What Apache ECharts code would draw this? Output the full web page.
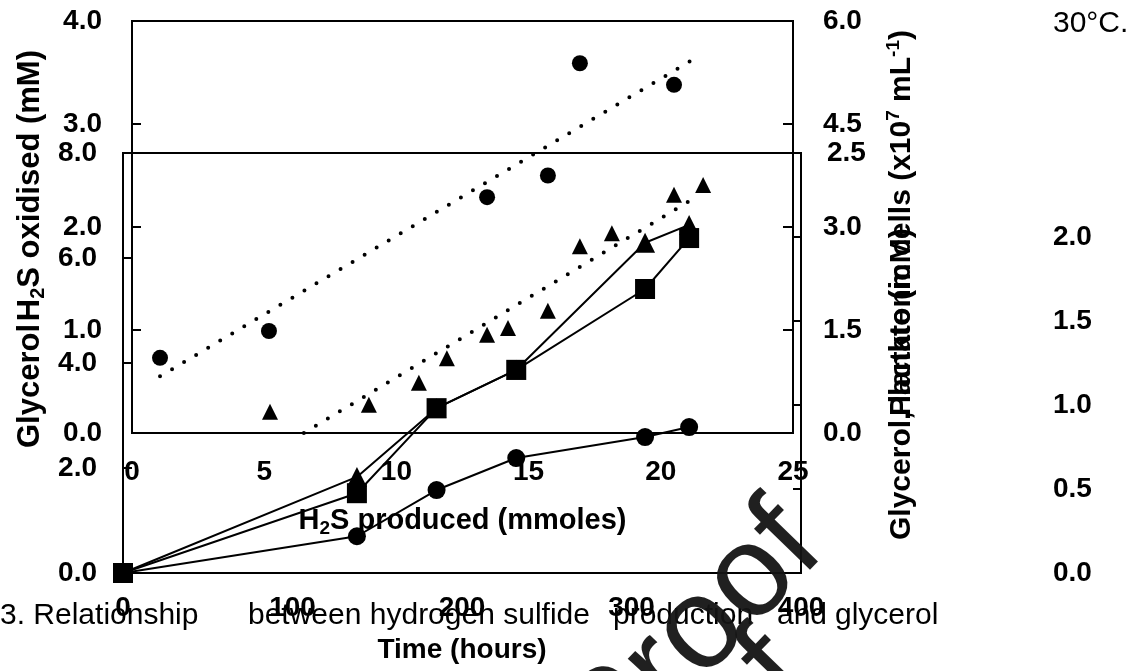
<!DOCTYPE html>
<html>
<head>
<meta charset="utf-8">
<style>
  html, body { margin: 0; padding: 0; background: #fff; }
  #chart { width: 1147px; height: 671px; }
</style>
<script src="https://cdn.jsdelivr.net/npm/echarts@6/dist/echarts.min.js"></script>
</head>
<body>
<div id="chart"></div>
<script>
// Panel A: H2S produced (mmoles) vs H2S oxidised (circles) and planktonic cells (triangles)
const prodCircleX = [1.06, 5.18, 13.43, 15.73, 16.94, 20.50]
const oxidisedMM = [0.73, 0.99, 2.29, 2.50, 3.59, 3.38]
const oxidisedTrendX = [1.06, 21.18]
const oxidisedTrendY = [0.55, 3.62]

const prodTriX = [5.22, 8.96, 10.85, 11.91, 13.43, 14.22, 15.73, 16.94, 18.15, 20.50, 21.60]
const cellsE7 = [0.31, 0.41, 0.73, 1.09, 1.43, 1.53, 1.78, 2.72, 2.91, 3.47, 3.61]
const cellsTrendX = [6.5, 21.26]
const cellsTrendY = [0, 3.42]

// Panel B: time course (hours)
const hours = [0, 138, 185, 232, 308, 334]
const squareVals = [0, 1.52, 3.14, 3.87, 5.41, 6.38]
const triangleVals = [0, 1.83, 3.14, 3.87, 6.29, 6.63]
const circleVals = [0, 0.70, 1.58, 2.19, 2.59, 2.78]

// tick labels
const ticksA_x = [0, 5, 10, 15, 20, 25]
const ticksB_x = [0, 100, 200, 300, 400]

const FONT = 'Liberation Sans, Arial, sans-serif'
const zip = (xs, ys) => xs.map((x, i) => [x, ys[i]])

const labelStyle = (margin) => ({
  color: '#000',
  fontFamily: FONT,
  fontWeight: 'bold',
  fontSize: 28,
  margin: margin
})
const tickStyle = (len) => ({
  show: true,
  inside: true,
  length: len,
  lineStyle: { color: '#000', width: 2 }
})
const lineAxis = { show: true, lineStyle: { color: '#000', width: 2 } }

const chart = echarts.init(document.getElementById('chart'))

const option = {
  animation: false,
  grid: [
    { left: 132, top: 21, width: 661, height: 412, show: true, borderColor: '#000', borderWidth: 2, backgroundColor: 'transparent', outerBoundsMode: 'none' },
    { left: 123, top: 153, width: 678, height: 420, show: true, borderColor: '#000', borderWidth: 2, backgroundColor: 'transparent', outerBoundsMode: 'none' }
  ],
  xAxis: [
    {
      gridIndex: 0, type: 'value', min: 0, max: 25, interval: 5,
      axisLine: lineAxis, axisTick: { show: false }, splitLine: { show: false },
      axisLabel: { ...labelStyle(25), formatter: v => ticksA_x.includes(v) ? String(v) : '' },
      name: '{n|H}{s|2}{n|S produced (mmoles)}',
      nameLocation: 'middle', nameGap: 70,
      nameTextStyle: {
        rich: {
          n: { fontFamily: FONT, fontWeight: 'bold', fontSize: 29, color: '#000' },
          s: { fontFamily: FONT, fontWeight: 'bold', fontSize: 19, color: '#000', padding: [16, 0, 0, 0] }
        }
      }
    },
    {
      gridIndex: 1, type: 'value', min: 0, max: 400, interval: 100,
      axisLine: lineAxis, axisTick: { show: false }, splitLine: { show: false },
      axisLabel: { ...labelStyle(21), formatter: v => ticksB_x.includes(v) ? String(v) : '' },
      name: 'Time (hours)',
      nameLocation: 'middle', nameGap: 63,
      nameTextStyle: { fontFamily: FONT, fontWeight: 'bold', fontSize: 28, color: '#000' }
    }
  ],
  yAxis: [
    {
      gridIndex: 0, type: 'value', min: 0, max: 4, interval: 1, position: 'left',
      axisLine: lineAxis, axisTick: tickStyle(9), splitLine: { show: false },
      axisLabel: { ...labelStyle(30), formatter: v => v.toFixed(1) }
    },
    {
      gridIndex: 0, type: 'value', min: 0, max: 6, interval: 1.5, position: 'right',
      axisLine: lineAxis, axisTick: tickStyle(10), splitLine: { show: false },
      axisLabel: { ...labelStyle(30), formatter: v => v.toFixed(1) }
    },
    {
      gridIndex: 1, type: 'value', min: 0, max: 8, interval: 2, position: 'left',
      axisLine: lineAxis, axisTick: tickStyle(9), splitLine: { show: false },
      axisLabel: { ...labelStyle(26), formatter: v => v.toFixed(1) }
    },
    {
      gridIndex: 1, type: 'value', min: 0, max: 2.5, interval: 0.5, position: 'right',
      axisLine: lineAxis, axisTick: tickStyle(8), splitLine: { show: false },
      axisLabel: {
        ...labelStyle(26),
        // only the top label sits next to the axis, the others are pushed far right
        formatter: v => v >= 2.5 ? v.toFixed(1) : '{far|' + v.toFixed(1) + '}',
        rich: {
          far: { fontFamily: FONT, fontWeight: 'bold', fontSize: 28, color: '#000', padding: [0, 0, 0, 226] }
        }
      }
    }
  ],
  series: [
    // panel A trend lines (dotted)
    {
      name: 'Oxidised trend', type: 'line', xAxisIndex: 0, yAxisIndex: 0,
      data: zip(oxidisedTrendX, oxidisedTrendY), symbol: 'none',
      lineStyle: { color: '#000', width: 4, type: [0, 14], cap: 'round' }
    },
    {
      name: 'Cells trend', type: 'line', xAxisIndex: 0, yAxisIndex: 1,
      data: zip(cellsTrendX, cellsTrendY), symbol: 'none',
      lineStyle: { color: '#000', width: 4, type: [0, 14], cap: 'round' }
    },
    {
      name: 'H2S oxidised', type: 'scatter', xAxisIndex: 0, yAxisIndex: 0,
      data: zip(prodCircleX, oxidisedMM), symbol: 'circle', symbolSize: 16,
      itemStyle: { color: '#000', opacity: 1 }
    },
    {
      name: 'Planktonic cells', type: 'scatter', xAxisIndex: 0, yAxisIndex: 1,
      data: zip(prodTriX, cellsE7), symbol: 'triangle', symbolSize: 16,
      itemStyle: { color: '#000', opacity: 1 }
    },
    // panel B time courses
    {
      name: 'Circles', type: 'line', xAxisIndex: 1, yAxisIndex: 2,
      data: zip(hours, circleVals), symbol: 'circle', symbolSize: 18,
      lineStyle: { color: '#000', width: 2 }, itemStyle: { color: '#000' }
    },
    {
      name: 'Triangles', type: 'line', xAxisIndex: 1, yAxisIndex: 2,
      data: zip(hours, triangleVals), symbol: 'triangle', symbolSize: 20,
      lineStyle: { color: '#000', width: 2 }, itemStyle: { color: '#000' }
    },
    {
      name: 'Squares', type: 'line', xAxisIndex: 1, yAxisIndex: 2,
      data: zip(hours, squareVals), symbol: 'rect', symbolSize: 20,
      lineStyle: { color: '#000', width: 2 }, itemStyle: { color: '#000' }
    }
  ],
  graphic: [
    // rotated axis titles
    {
      type: 'text', x: 30, y: 50, rotation: Math.PI / 2,
      style: {
        text: '{n|H}{s|2}{n|S oxidised (mM)}', align: 'right', verticalAlign: 'middle',
        rich: {
          n: { font: 'bold 31px ' + FONT, fill: '#000' },
          s: { font: 'bold 20px ' + FONT, fill: '#000', padding: [16, 0, 0, 0] }
        }
      }
    },
    {
      type: 'text', x: 30, y: 448, rotation: Math.PI / 2,
      style: { text: 'Glycerol', font: 'bold 31px ' + FONT, fill: '#000', align: 'left', verticalAlign: 'middle' }
    },
    {
      type: 'text', x: 902, y: 30, rotation: Math.PI / 2,
      style: {
        text: '{n|Planktonic cells (x10}{p|7}{n| mL}{p|-1}{n|)}', align: 'right', verticalAlign: 'middle',
        rich: {
          n: { font: 'bold 30px ' + FONT, fill: '#000' },
          p: { font: 'bold 19px ' + FONT, fill: '#000', padding: [0, 0, 16, 0] }
        }
      }
    },
    {
      type: 'text', x: 902, y: 540, rotation: Math.PI / 2,
      style: { text: 'Glycerol, lactate (mM)', font: 'bold 30px ' + FONT, fill: '#000', align: 'left', verticalAlign: 'middle' }
    },
    // caption fragments
    { type: 'text', x: 1053, y: 24, style: { text: '30°C.', font: '30px ' + FONT, fill: '#000', verticalAlign: 'middle' } },
    { type: 'text', x: 0, y: 616, style: { text: '3. Relationship', font: '30px ' + FONT, fill: '#000', verticalAlign: 'middle' } },
    { type: 'text', x: 248, y: 616, style: { text: 'between hydrogen sulfide', font: '30px ' + FONT, fill: '#000', verticalAlign: 'middle' } },
    { type: 'text', x: 613, y: 616, style: { text: 'production', font: '30px ' + FONT, fill: '#000', verticalAlign: 'middle' } },
    { type: 'text', x: 777, y: 616, style: { text: 'and', font: '30px ' + FONT, fill: '#000', verticalAlign: 'middle' } },
    { type: 'text', x: 835, y: 616, style: { text: 'glycerol', font: '30px ' + FONT, fill: '#000', verticalAlign: 'middle' } },
    // watermark
    { type: 'text', x: 585, y: 750, rotation: 0.8, z: 100, style: { text: 'Proof', font: '130px ' + FONT, fill: 'rgba(20,20,20,0.95)', verticalAlign: 'middle' } },
    { type: 'text', x: 572, y: 880, rotation: 0.8, z: 100, style: { text: 'Proof', font: '130px ' + FONT, fill: 'rgba(20,20,20,0.95)', verticalAlign: 'middle' } }
  ]
}

chart.setOption(option)
</script>
</body>
</html>
